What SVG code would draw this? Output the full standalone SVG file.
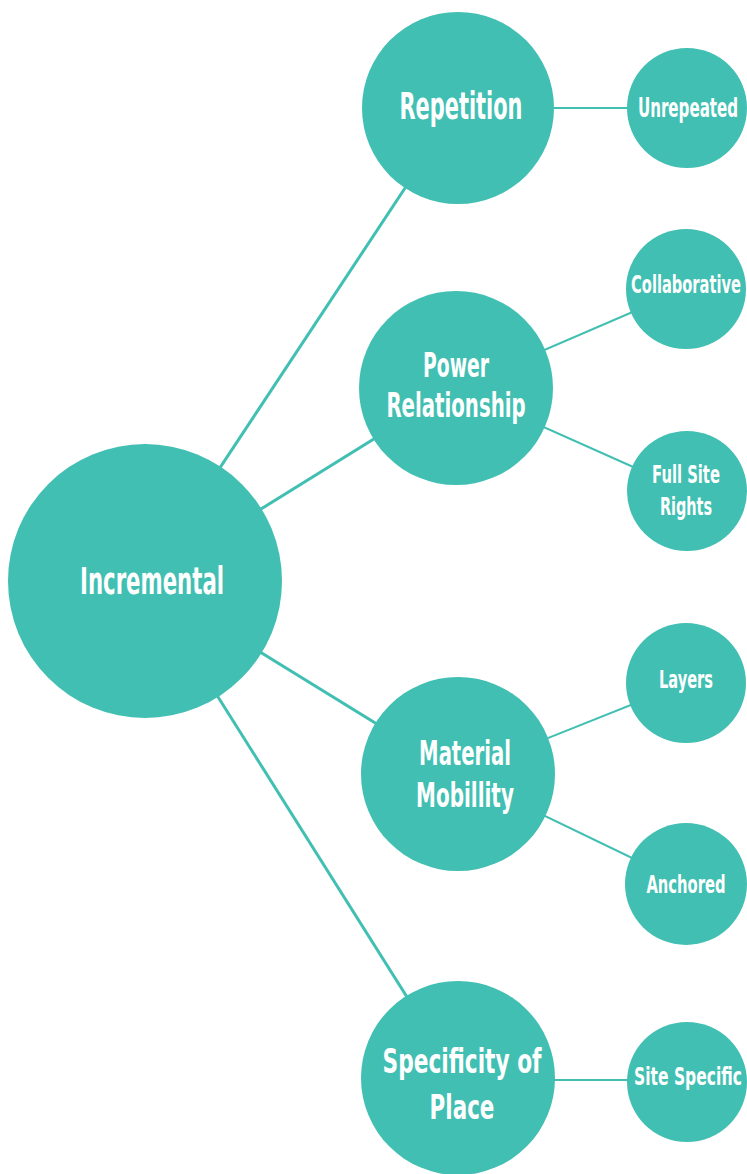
<svg xmlns="http://www.w3.org/2000/svg" width="747" height="1174" viewBox="0 0 747 1174">
<style>
.n{fill:#41BFB2}
.t{fill:#fff;font-family:"DejaVu Sans Condensed","Liberation Sans Narrow","Liberation Sans",sans-serif;font-weight:bold;text-anchor:middle}
.big{font-size:33px}
.sm{font-size:25px}
.c1{stroke:#41BFB2;stroke-width:3;fill:none}
.c2{stroke:#41BFB2;stroke-width:2;fill:none}
</style>
<rect width="747" height="1174" fill="#fff"/>
<g id="connectors">
<line class="c1" x1="145" y1="581" x2="458" y2="108"/>
<line class="c1" x1="145" y1="581" x2="456" y2="388"/>
<line class="c1" x1="145" y1="581" x2="458" y2="774"/>
<line class="c1" x1="145" y1="581" x2="458" y2="1078"/>
<line class="c2" x1="458" y1="108" x2="687" y2="108"/>
<line class="c2" x1="456" y1="388" x2="686" y2="289"/>
<line class="c2" x1="456" y1="388" x2="687" y2="491"/>
<line class="c2" x1="458" y1="774" x2="686" y2="683"/>
<line class="c2" x1="458" y1="774" x2="686" y2="884"/>
<line class="c2" x1="458" y1="1080" x2="687" y2="1080"/>
</g>
<g id="incremental"><circle class="n" cx="145" cy="581" r="137"/><text class="t" font-size="37" transform="translate(152,594) scale(0.6,1)" textLength="240" lengthAdjust="spacingAndGlyphs">Incremental</text></g>
<g id="repetition"><circle class="n" cx="458" cy="108" r="96"/><text class="t" font-size="37" transform="translate(461,119) scale(0.6,1)" textLength="205" lengthAdjust="spacingAndGlyphs">Repetition</text></g>
<g id="unrepeated"><circle class="n" cx="687" cy="108" r="60"/><text class="t" font-size="26" transform="translate(688,117) scale(0.6,1)" textLength="167" lengthAdjust="spacingAndGlyphs">Unrepeated</text></g>
<g id="power"><circle class="n" cx="456" cy="388" r="97"/><text class="t big" transform="translate(456,377) scale(0.6,1)" textLength="110" lengthAdjust="spacingAndGlyphs">Power</text><text class="t big" transform="translate(456,417) scale(0.6,1)" textLength="232" lengthAdjust="spacingAndGlyphs">Relationship</text></g>
<g id="collaborative"><circle class="n" cx="686" cy="289" r="60"/><text class="t sm" transform="translate(686,293) scale(0.6,1)" textLength="183" lengthAdjust="spacingAndGlyphs">Collaborative</text></g>
<g id="fullsite"><circle class="n" cx="687" cy="491" r="60"/><text class="t sm" transform="translate(686,483) scale(0.6,1)" textLength="113" lengthAdjust="spacingAndGlyphs">Full Site</text><text class="t sm" transform="translate(686,515) scale(0.6,1)" textLength="87" lengthAdjust="spacingAndGlyphs">Rights</text></g>
<g id="material"><circle class="n" cx="458" cy="774" r="97"/><text class="t big" transform="translate(465,765) scale(0.6,1)" textLength="153" lengthAdjust="spacingAndGlyphs">Material</text><text class="t big" transform="translate(465,807) scale(0.6,1)" textLength="163" lengthAdjust="spacingAndGlyphs">Mobillity</text></g>
<g id="layers"><circle class="n" cx="686" cy="683" r="60"/><text class="t sm" transform="translate(686,688) scale(0.6,1)" textLength="90" lengthAdjust="spacingAndGlyphs">Layers</text></g>
<g id="anchored"><circle class="n" cx="686" cy="884" r="61"/><text class="t sm" transform="translate(686,893) scale(0.6,1)" textLength="132" lengthAdjust="spacingAndGlyphs">Anchored</text></g>
<g id="specificity"><circle class="n" cx="458" cy="1078" r="97"/><text class="t big" transform="translate(462,1073) scale(0.6,1)" textLength="265" lengthAdjust="spacingAndGlyphs">Specificity of</text><text class="t big" transform="translate(462,1119) scale(0.6,1)" textLength="108" lengthAdjust="spacingAndGlyphs">Place</text></g>
<g id="sitespecific"><circle class="n" cx="687" cy="1082" r="60"/><text class="t sm" transform="translate(688,1085) scale(0.6,1)" textLength="180" lengthAdjust="spacingAndGlyphs">Site Specific</text></g>
</svg>
